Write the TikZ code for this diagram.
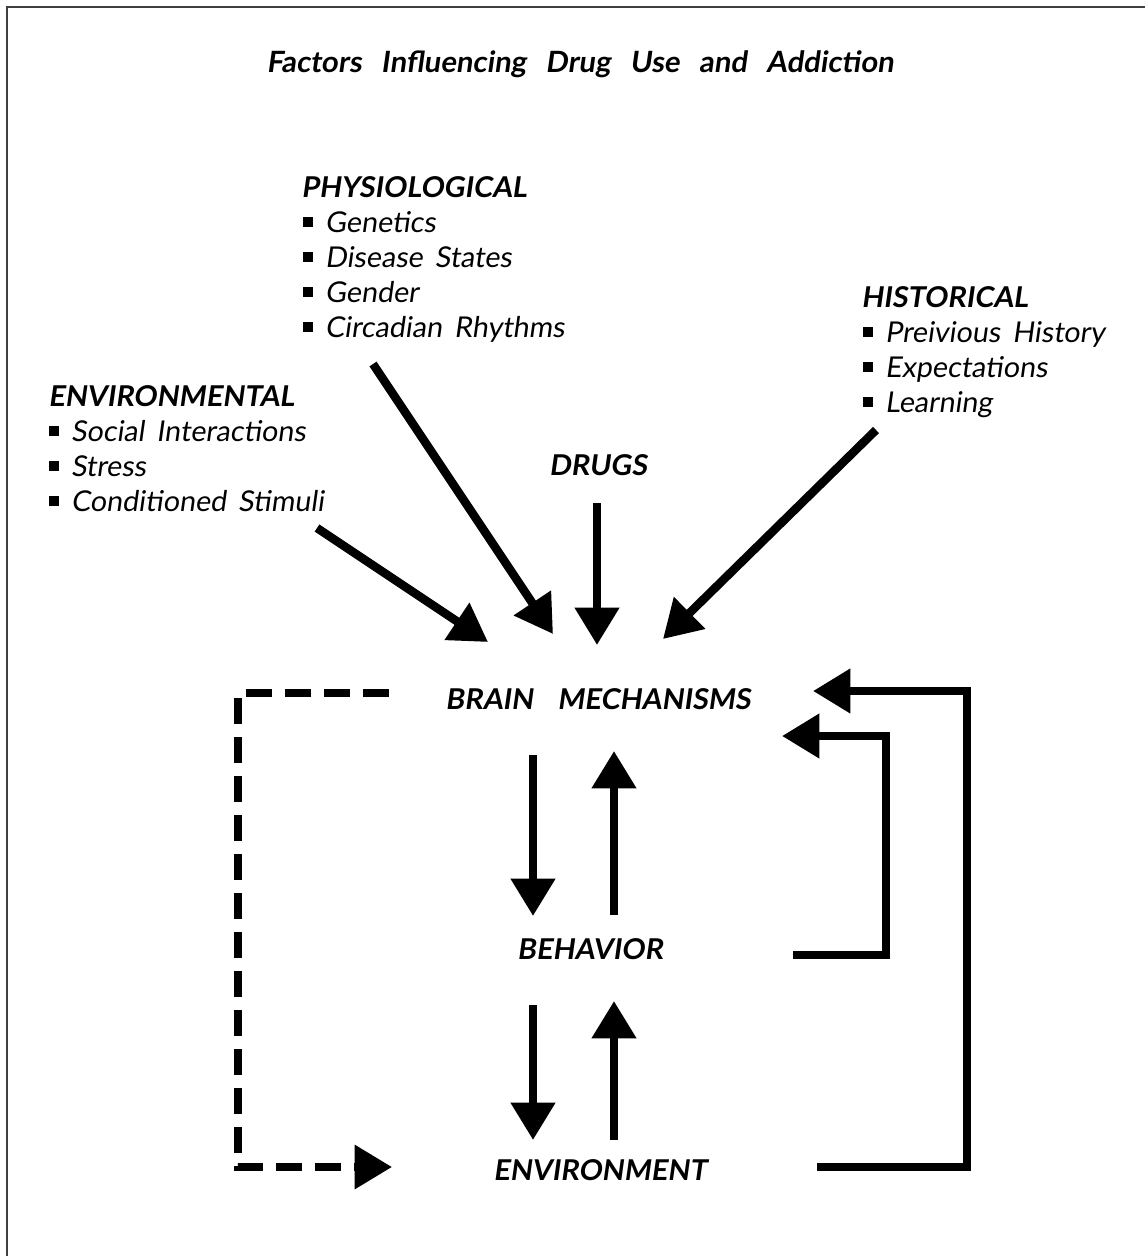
\documentclass[tikz,border=0pt]{standalone}
\usepackage{fontspec}
\setmainfont{Lato}[ItalicFont=Lato, ItalicFeatures={FakeSlant=0.14}, BoldItalicFont=Lato Bold, BoldItalicFeatures={FakeSlant=0.14}]
\usetikzlibrary{arrows.meta,calc}
\newcommand{\sqb}{\rule[0.17em]{0.34em}{0.34em}\hspace{0.42em}}
\newcommand{\wsp}{\spaceskip=0.42em plus 0.1em\relax}
\newcommand{\tsp}{\spaceskip=0.66em plus 0.1em\relax}
\begin{document}
\begin{tikzpicture}[x=0.75pt,y=-0.75pt,
  txt/.style={inner sep=0pt, anchor=base west, font=\fontsize{21.5}{26}\selectfont\itshape\wsp},
  hd/.style={inner sep=0pt, anchor=base west, font=\fontsize{21.5}{26}\selectfont\bfseries\itshape\wsp},
  ctr/.style={inner sep=0pt, anchor=base, font=\fontsize{21.5}{26}\selectfont\bfseries\itshape\wsp},
  ttl/.style={inner sep=0pt, anchor=base, font=\fontsize{22}{26}\selectfont\bfseries\itshape\tsp},
  arr/.style={line width=6.4pt, -{Triangle[length=28pt,width=32pt]}},
  dsh/.style={line width=5.6pt, dash pattern=on 19.5pt off 9.75pt, -{Triangle[length=28pt,width=32pt]}}]
\useasboundingbox (0,0) rectangle (1145,1256);
\draw[line width=1.2pt, black!75] (7,1300) -- (7,7) -- (1200,7);

\node[ttl] (title) at (580,73) {Factors Influencing Drug Use and Addiction};

\node[hd] (phys) at (301,197) {PHYSIOLOGICAL};
\node[txt] (p1) at (303,232) {\sqb Genetics};
\node[txt] (p2) at (303,267) {\sqb Disease States};
\node[txt] (p3) at (303,302) {\sqb Gender};
\node[txt] (p4) at (303,337) {\sqb Circadian Rhythms};

\node[hd] (hist) at (861,307) {HISTORICAL};
\node[txt] (h1) at (863,342) {\sqb Preivious History};
\node[txt] (h2) at (863,377) {\sqb Expectations};
\node[txt] (h3) at (863,412) {\sqb Learning};

\node[hd] (envh) at (48,406) {ENVIRONMENTAL};
\node[txt] (e1) at (49,441) {\sqb Social Interactions};
\node[txt] (e2) at (49,476) {\sqb Stress};
\node[txt] (e3) at (49,511) {\sqb Conditioned Stimuli};

\node[ctr] (drugs) at (598,475) {DRUGS};
\node[ctr] (brain) at (598,709) {BRAIN\ \ MECHANISMS};
\node[ctr] (behav) at (590,959) {BEHAVIOR};
\node[ctr] (envt) at (600,1180) {ENVIRONMENT};

% inputs to brain
\coordinate (eT) at (317,528);
\coordinate (eH) at (488,642);
\coordinate (pT) at (373,364);
\coordinate (pH) at (553,634);
\coordinate (dT) at (597,503);
\coordinate (dH) at (597,645);
\coordinate (hT) at (876,430);
\coordinate (hH) at (663,639);
\draw[arr] (eT) -- (eH);
\draw[arr] (pT) -- (pH);
\draw[arr] (dT) -- (dH);
\draw[arr] (hT) -- (hH);

% brain <-> behavior
\draw[arr] (533,755) -- (533,916);
\draw[arr] (614,915) -- (614,751);
% behavior <-> environment
\draw[arr] (533,1005) -- (533,1140);
\draw[arr] (614,1140) -- (614,1001);

% feedback loops
\draw[arr] (793,955) -- (886,955) -- (886,736) -- (782,736);
\draw[arr] (817,1167) -- (967,1167) -- (967,691) -- (813,691);

% dashed loop
\draw[dsh] (389,693) -- (238,693) -- (238,1167) -- (392,1167);
\end{tikzpicture}
\end{document}
